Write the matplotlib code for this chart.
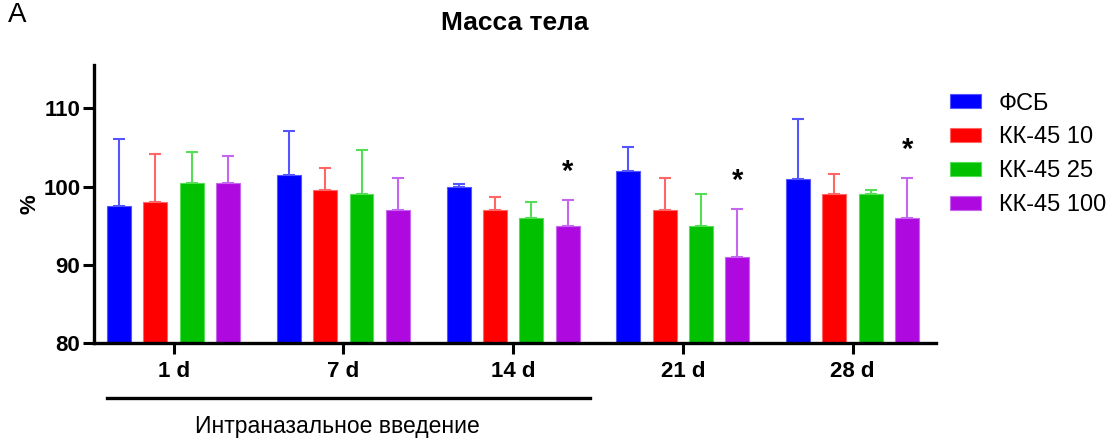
import numpy as np
import matplotlib
matplotlib.use("Agg")
import matplotlib.pyplot as plt
from matplotlib.transforms import blended_transform_factory

plt.rcParams['font.family'] = ['Liberation Sans', 'DejaVu Sans']

# данные
days = ['1 d', '7 d', '14 d', '21 d', '28 d']
groups = ['ФСБ', 'КК-45 10', 'КК-45 25', 'КК-45 100']
pbs = [97.5, 101.5, 100.0, 102.0, 101.0]
kk10 = [98.0, 99.5, 97.0, 97.0, 99.0]
kk25 = [100.5, 99.0, 96.0, 95.0, 99.0]
kk100 = [100.5, 97.0, 95.0, 91.0, 96.0]
pbs_sd = [8.6, 5.6, 0.3, 3.1, 7.6]
kk10_sd = [6.1, 2.8, 1.6, 4.1, 2.6]
kk25_sd = [3.9, 5.6, 2.05, 4.1, 0.6]
kk100_sd = [3.4, 4.1, 3.3, 6.1, 5.1]
# звездочки: (день, группа)
stars = [(2, 3), (3, 3), (4, 3)]

colors = ['#0000FF', '#FF0000', '#00C000', '#AE0AE0']
edge_colors = ['#5555FF', '#FF6666', '#55DD55', '#C466EE']

means = [pbs, kk10, kk25, kk100]
sds = [pbs_sd, kk10_sd, kk25_sd, kk100_sd]

fig = plt.figure(figsize=(11.14, 4.41), dpi=100)
ax = fig.add_axes([0.0847, 0.2215, 0.7553, 0.6311])

x = np.arange(len(days))
step = 0.214
width = 0.141
for i in range(len(groups)):
    pos = x + (i - 1.5) * step
    ax.bar(pos, means[i], width, bottom=0, color=colors[i], edgecolor=edge_colors[i],
           linewidth=0.8, label=groups[i], zorder=2)
    ax.errorbar(pos, means[i], yerr=[np.zeros(len(days)), sds[i]], fmt='none',
                ecolor=edge_colors[i], elinewidth=1.5, capsize=4.5, capthick=1.5, zorder=1)

for d, g in stars:
    top = means[g][d] + sds[g][d]
    ax.text(x[d] + (g - 1.5) * step, top + 3.6, '*', ha='center', va='center',
            fontsize=21, fontweight='bold')

ax.set_ylim(80, 115.5)
ax.set_xlim(-0.467, 4.49)
ax.set_yticks([80, 90, 100, 110])
ax.set_xticks(x)
ax.set_xticklabels(days)
for lab in ax.get_xticklabels() + ax.get_yticklabels():
    lab.set_fontweight('bold')
    lab.set_fontsize(16)
ax.tick_params(axis='both', width=2.2, length=8, color='black')
ax.tick_params(axis='x', pad=5)
ax.tick_params(axis='y', pad=2)
for s in ['top', 'right']:
    ax.spines[s].set_visible(False)
for s in ['left', 'bottom']:
    ax.spines[s].set_linewidth(2.4)

ax.set_ylabel('%', fontsize=16, fontweight='bold', labelpad=2)
ax.set_title('Масса тела', fontsize=19, fontweight='bold', pad=25)

# линия под 1-14 d
trans = blended_transform_factory(ax.transData, ax.transAxes)
ax.plot([-0.392, 2.455], [-0.197, -0.197], color='black', lw=2.4, transform=trans, clip_on=False)
ax.text(0.966, -0.30, 'Интраназальное введение', transform=trans, ha='center', va='center',
        fontsize=16.5)

fig.text(0.007, 0.95, 'A', fontsize=20, va='baseline', ha='left')

ax.legend(loc='upper left', bbox_to_anchor=(0.834, 0.838), bbox_transform=fig.transFigure,
          frameon=False, fontsize=17, handlelength=1.3, handleheight=0.55,
          handletextpad=0.75, labelspacing=0.5)

fig.savefig('out.png', dpi=100)
